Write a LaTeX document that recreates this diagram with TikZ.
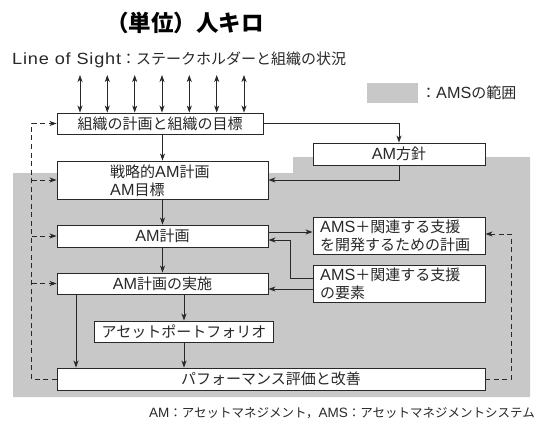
\documentclass[tikz,border=0pt]{standalone}
\usepackage{fontspec}
\setmainfont{Noto Sans CJK JP}
\newfontfamily\lat[Scale=1.08]{Liberation Sans}
\newfontfamily\latw[Scale=1.08,FakeStretch=1.12,LetterSpace=5]{Liberation Sans}
\usetikzlibrary{arrows.meta}
\definecolor{amsgray}{RGB}{200,200,200}
\definecolor{ink}{RGB}{40,40,40}
\begin{document}
\begin{tikzpicture}[x=1pt,y=-1pt,
  box/.style={draw=ink, fill=white, line width=0.9pt, inner sep=0pt, text=ink,
    font=\fontsize{15}{18}\selectfont},
  txt/.style={text=ink, inner sep=0pt, font=\fontsize{15}{18}\selectfont},
  arr/.style={draw=ink, line width=0.8pt, -{Stealth[length=7pt,width=5pt,inset=2pt]}},
  darr/.style={draw=ink, line width=0.8pt, {Stealth[length=7pt,width=5pt,inset=2pt]}-{Stealth[length=7pt,width=5pt,inset=2pt]}},
  dsharr/.style={arr, dash pattern=on 5pt off 3.5pt}
]
\useasboundingbox (0,0) rectangle (538,425);
% AMS region
\fill[amsgray] (13,173) -- (293,173) -- (293,157) -- (530,157) -- (530,397) -- (13,397) -- cycle;

% title and header texts
\node[text=black, inner sep=0pt, font=\fontsize{22.5}{26}\selectfont\bfseries] (title) at (185,23) {（単位）人キロ};
\node[txt, anchor=west] (los) at (12,60) {{\latw Line of Sight}：ステークホルダーと組織の状況};
\fill[amsgray] (367,83) rectangle (418,103);
\node[txt, anchor=west] (legend) at (421,93) {：{\lat AMS}の範囲};
\node[text=ink, inner sep=0pt, anchor=east, font=\fontsize{12.5}{15}\selectfont] (foot) at (535,413)
  {{\lat AM}：アセットマネジメント，{\lat AMS}：アセットマネジメントシステム};

% boxes
\node[box, minimum width=206pt, minimum height=21pt] (b1) at (160,123.5) {組織の計画と組織の目標};
\node[box, minimum width=172pt, minimum height=22pt] (fang) at (399,154) {{\lat AM}方針};
\node[box, minimum width=211pt, minimum height=38pt] (b2) at (162.5,180) {};
\node[txt, anchor=west, align=left] (b2t) at (110,181) {戦略的{\lat AM}計画\\{\lat AM}目標};
\node[box, minimum width=211pt, minimum height=22pt] (plan) at (162.5,236) {{\lat AM}計画};
\node[box, minimum width=172pt, minimum height=37pt] (r1) at (399,235.5) {};
\node[txt, anchor=west, align=left] (r1t) at (320,236) {{\lat AMS}＋関連する支援\\を開発するための計画};
\node[box, minimum width=172pt, minimum height=37pt] (r2) at (399,283.5) {};
\node[txt, anchor=west, align=left] (r2t) at (320,284) {{\lat AMS}＋関連する支援\\の要素};
\node[box, minimum width=211pt, minimum height=21pt] (impl) at (162.5,283.5) {{\lat AM}計画の実施};
\node[box, minimum width=179pt, minimum height=21pt] (port) at (184,331.5) {アセットポートフォリオ};
\node[box, minimum width=428pt, minimum height=22pt] (perf) at (271,379) {パフォーマンス評価と改善};

% line of sight double arrows
\foreach \i/\x in {1/80,2/107.3,3/134.7,4/162,5/189.3,6/216.7,7/244} {
  \coordinate (t\i) at (\x,75);
  \draw[darr] (t\i) -- (t\i |- b1.north);
}

% solid connectors
\draw[arr] (b1.east) -| (fang.north);
\draw[arr] (b1.south -| b2.north) -- (b2.north);
\draw[arr] (fang.south) |- (b2.east);
\draw[arr] (b2.south) -- (plan.north);
\draw[arr] (plan.south) -- (impl.north);
\draw[arr] ([yshift=4pt]plan.east) -- ([yshift=4pt]plan.east -| r1.west);
\draw[arr] ([yshift=5.5pt]r2.west) -- ++(-22,0) |- ([yshift=-4pt]plan.east);
\draw[arr] ([yshift=-5.5pt]r2.west) -- ([yshift=-5.5pt]r2.west -| impl.east);
\draw[arr] ([xshift=-86.5pt]impl.south) -- ([xshift=-86.5pt]impl.south |- perf.north);
\draw[arr] (impl.south -| port.north) -- (port.north);
\draw[arr] (port.south) -- (port.south |- perf.north);

% dashed feedback
\draw[dsharr] (perf.west) -- ++(-25,0) |- (b1.west);
\draw[dsharr] ([xshift=-25pt]b2.west) -- (b2.west);
\draw[dsharr] ([xshift=-25pt]plan.west) -- (plan.west);
\draw[dsharr] ([xshift=-25pt]impl.west) -- (impl.west);
\draw[dsharr] (perf.east) -- ++(26,0) |- ([yshift=1.5pt]r1.east);
\end{tikzpicture}
\end{document}
